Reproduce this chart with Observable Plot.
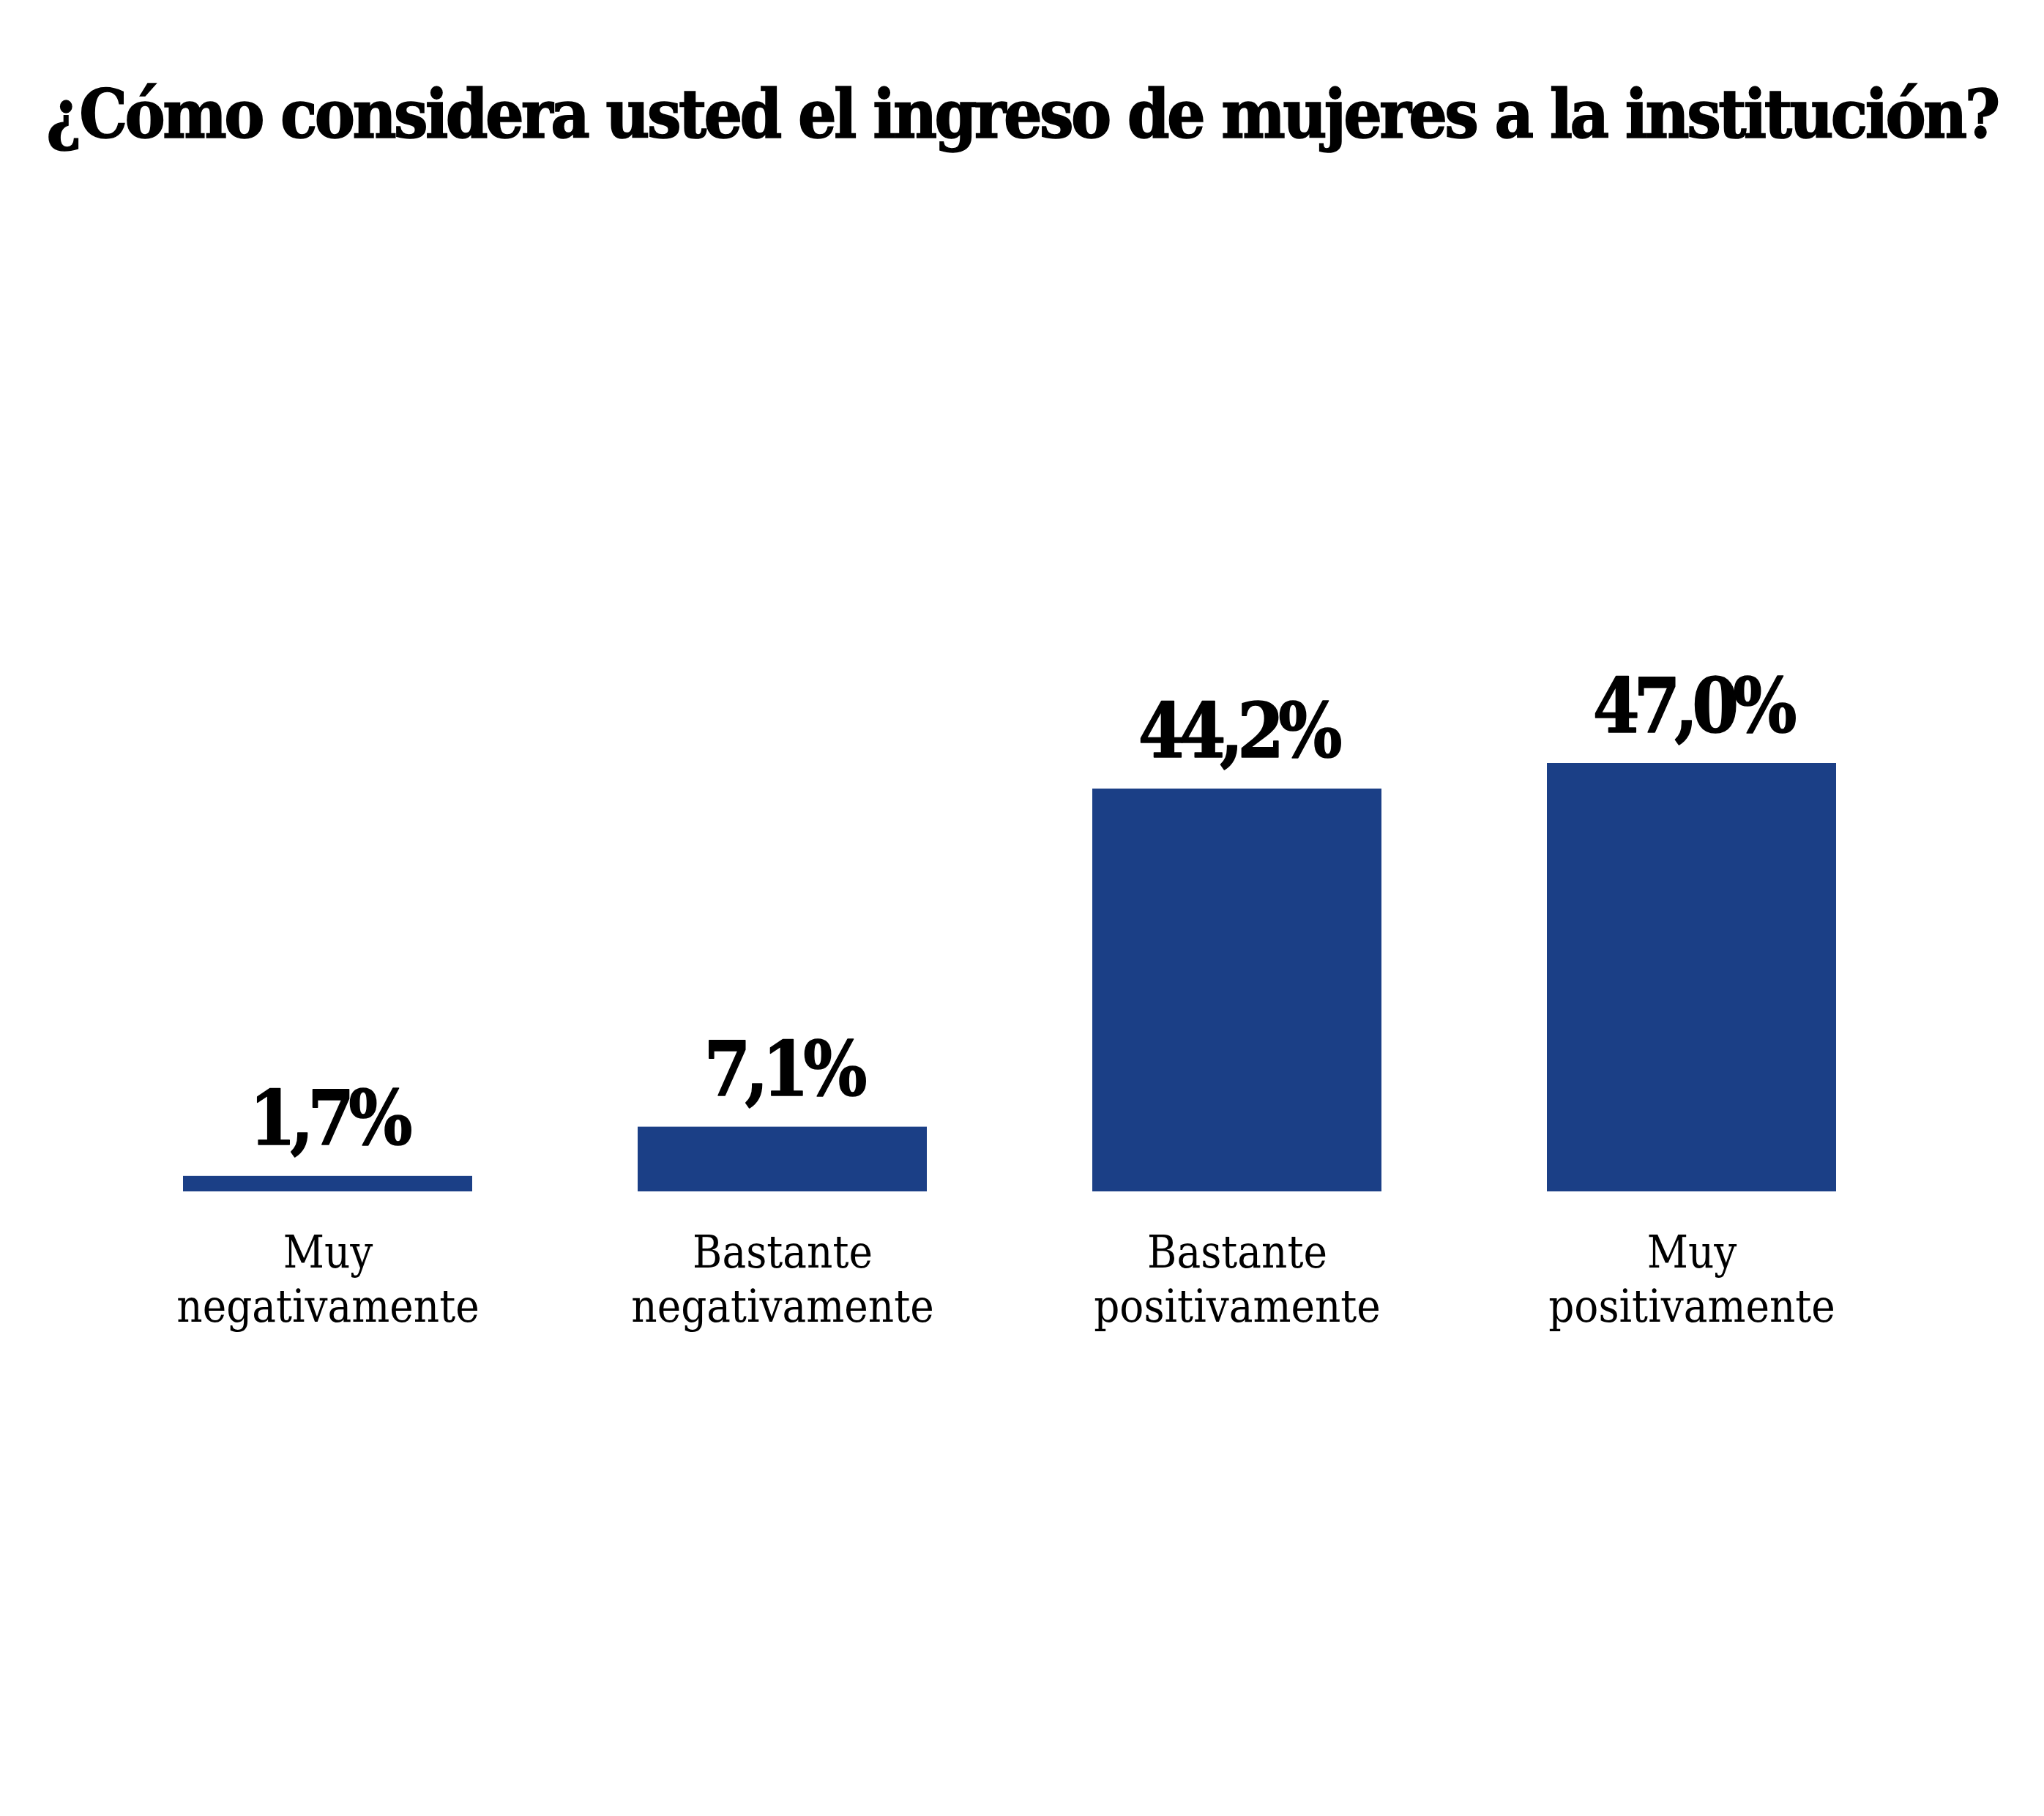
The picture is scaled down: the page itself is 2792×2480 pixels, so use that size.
<!DOCTYPE html>
<html><head><meta charset="utf-8">
<script src="https://cdn.jsdelivr.net/npm/d3@7"></script>
<script src="https://cdn.jsdelivr.net/npm/@observablehq/plot@0.6"></script>
<style>
html,body{margin:0;padding:0;background:#fff;}
#title{font-family:"DejaVu Serif Condensed","DejaVu Serif",serif;font-stretch:condensed;font-weight:bold;font-size:92px;color:#000;height:230px;box-sizing:border-box;padding-top:106px;line-height:100px;text-align:center;white-space:nowrap;letter-spacing:-3.6px;-webkit-text-stroke:1.5px #000;}
</style></head>
<body>
<div id="title">¿Cómo considera usted el ingreso de mujeres a la institución?</div>
<div id="chart"></div>
<script>
const categories = ["Muy\nnegativamente","Bastante\nnegativamente","Bastante\npositivamente","Muy\npositivamente"];
const values = [1.7, 7.1, 44.2, 47.0];
const labels = ["1,7%","7,1%","44,2%","47,0%"];
const data = categories.map((c,i)=>({cat:c, v:values[i], lab:labels[i]}));
const font = "DejaVu Serif Condensed, DejaVu Serif, serif";
const chart = Plot.plot({
  width: 2792, height: 2250,
  marginLeft: 23, marginRight: 57, marginTop: 812, marginBottom: 853,
  style: {fontFamily: font, background: "#fff"},
  x: {domain: categories, padding: 0.3645, label: null},
  y: {domain: [0, 47], axis: null},
  marks: [
    Plot.barY(data, {x: "cat", y: "v", fill: "#1b3f86"}),
    Plot.text(data, {x: "cat", y: "v", text: "lab", dy: -43, lineAnchor: "bottom", fontSize: 102, fontWeight: "bold", fill: "#000", stroke: "#000", strokeWidth: 1.5}),
    Plot.axisX({tickSize: 0, tickPadding: 52, fontSize: 61, lineHeight: 1.2, fill: "#000", label: null})
  ]
});
d3.select(chart).selectAll('g[aria-label="text"] text').style("letter-spacing", "-8px");
document.getElementById("chart").appendChild(chart);
</script>
</body></html>
